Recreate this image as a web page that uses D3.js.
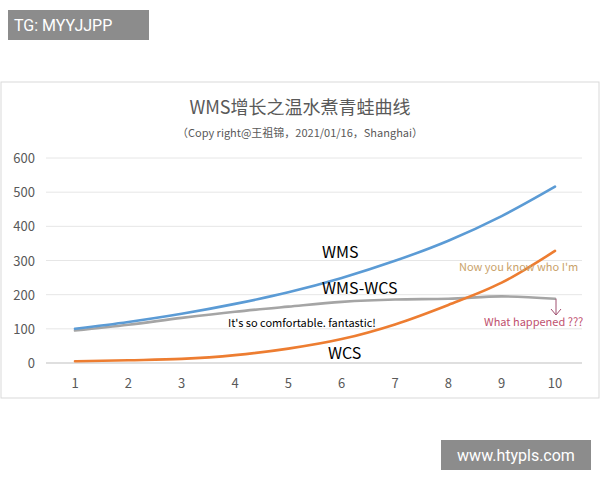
<!DOCTYPE html>
<html><head><meta charset="utf-8">
<script src="https://cdn.jsdelivr.net/npm/d3@7"></script>
<style>body{margin:0;background:#fff}</style>
</head><body>
<svg id="c" width="600" height="480"></svg>
<script>
const xs = [1, 2, 3, 4, 5, 6, 7, 8, 9, 10]
const wms = [100, 120, 144, 173, 207, 249, 299, 358, 430, 516]
const wcs = [5, 8, 12, 23, 42, 70, 113, 170, 235, 328]
const diff = [95, 112, 132, 150, 165, 179, 186, 188, 195, 188]
const yTicks = [0, 100, 200, 300, 400, 500, 600]

const svg = d3.select('#c')
const font = '"Noto Sans CJK SC", "Noto Sans", sans-serif'

// chart frame
svg.append('rect').attr('x', 1).attr('y', 82).attr('width', 598).attr('height', 316)
    .attr('fill', '#fff').attr('stroke', '#d9d9d9')

const x = d3.scaleLinear().domain([1, 10]).range([75, 555])
const y = d3.scaleLinear().domain([0, 600]).range([363, 158])

svg.append('g').selectAll('line').data(yTicks).join('line')
    .attr('x1', 46).attr('x2', 582).attr('y1', d => y(d)).attr('y2', d => y(d))
    .attr('stroke', d => d === 0 ? '#bfbfbf' : '#e6e6e6')

svg.append('g').selectAll('text').data(yTicks).join('text')
    .attr('x', 35).attr('y', d => y(d) + 5).attr('text-anchor', 'end')
    .attr('font-family', font).attr('font-size', 13).attr('fill', '#595959').text(d => d)

svg.append('g').selectAll('text').data(xs).join('text')
    .attr('x', d => x(d)).attr('y', 388).attr('text-anchor', 'middle')
    .attr('font-family', font).attr('font-size', 13).attr('fill', '#595959').text(d => d)

const line = vals => d3.line().x((d, i) => x(xs[i])).y(d => y(d)).curve(d3.curveMonotoneX)(vals)
const series = [[diff, '#a5a5a5'], [wcs, '#ed7d31'], [wms, '#5b9bd5']]
series.forEach(([v, c]) => svg.append('path').attr('d', line(v))
    .attr('fill', 'none').attr('stroke', c).attr('stroke-width', 2.6).attr('stroke-linecap', 'round'))

// titles
svg.append('text').attr('x', 300).attr('y', 114).attr('text-anchor', 'middle')
    .attr('font-family', font).attr('font-size', 18).attr('fill', '#595959').text('WMS增长之温水煮青蛙曲线')
svg.append('text').attr('x', 300).attr('y', 137).attr('text-anchor', 'middle')
    .attr('font-family', font).attr('font-size', 11).attr('fill', '#595959').text('（Copy right@王祖锦，2021/01/16，Shanghai）')

// annotations
const note = (t, tx, ty, size, fill) => svg.append('text').attr('x', tx).attr('y', ty)
    .attr('font-family', font).attr('font-size', size).attr('fill', fill).text(t)
note('WMS', 322, 258, 16, '#000')
note('WMS-WCS', 322, 294, 16, '#000')
note("It's so comfortable. fantastic!", 228, 327, 11, '#000')
note('WCS', 328, 359, 16, '#000')
note("Now you know who I'm", 459, 271, 11, '#c9a26a')
note('What happened ???', 484, 326, 11, '#c0506e')
svg.append('path').attr('d', `M556,${y(188)}V315M551,309L556,315L561,309`)
    .attr('fill', 'none').attr('stroke', '#a05070').attr('stroke-width', 1)

// overlay labels
svg.append('rect').attr('x', 8).attr('y', 10).attr('width', 141).attr('height', 30).attr('fill', '#8c8c8c')
svg.append('text').attr('x', 14).attr('y', 31).attr('font-family', 'Roboto, sans-serif')
    .attr('font-size', 16).attr('fill', '#fff').text('TG: MYYJJPP')
svg.append('rect').attr('x', 441).attr('y', 440).attr('width', 150).attr('height', 30).attr('fill', '#8c8c8c')
svg.append('text').attr('x', 516).attr('y', 461).attr('text-anchor', 'middle').attr('font-family', 'Roboto, sans-serif')
    .attr('font-size', 16).attr('fill', '#fff').text('www.htypls.com')
</script>
</body></html>
